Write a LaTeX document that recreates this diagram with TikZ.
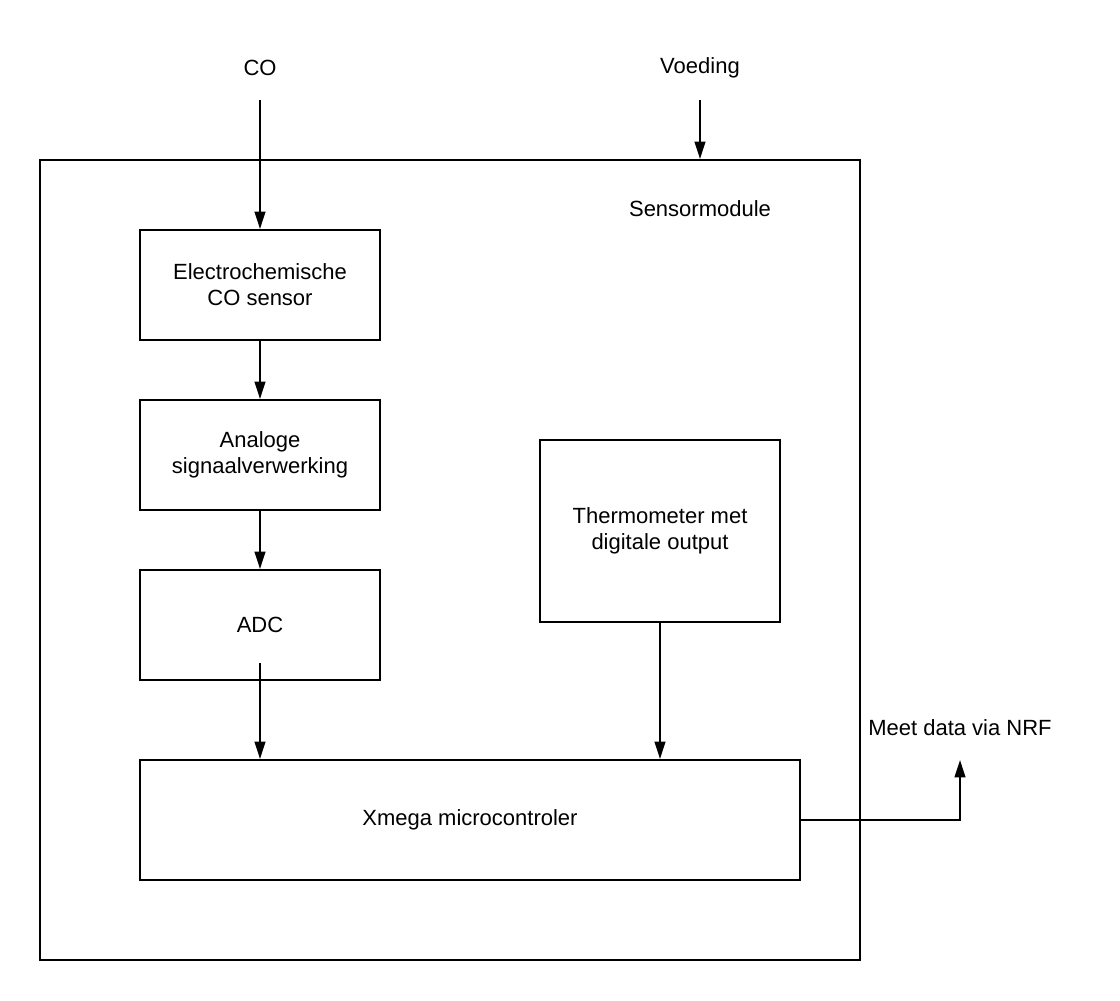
\documentclass[tikz,border=0pt]{standalone}
\usepackage{fontspec}
\setmainfont{Liberation Sans}
\usetikzlibrary{positioning,arrows.meta}

\begin{document}
\begin{tikzpicture}[
      x=0.75pt, y=-0.75pt,
      node distance=43.5pt,
      txt/.style = {font=\fontsize{16.5}{19.5}\selectfont, align=center},
      blok/.style = {txt, draw, line width=1.5pt, minimum width=180pt, minimum height=82.5pt, inner sep=0pt},
      flow/.style = {-{Triangle[length=13pt,width=8pt]}, line width=1.5pt}
      ]
      \useasboundingbox (0,0) rectangle (1120,1000);
      \node[draw, line width=1.5pt, minimum width=615pt, minimum height=600pt] (module) at (450,560) {};
      \node[txt] (modlabel) at (700,209) {Sensormodule};
      \node[txt] (colabel) at (260,68) {CO};
      \node[txt] (vlabel) at (700,68) {Voeding};

      \node[blok] (sensor) at (260,285) {Electrochemische\\CO sensor};
      \node[blok, below=of sensor] (analoog) {Analoge\\signaalverwerking};
      \node[blok, below=of analoog] (adc) {ADC};
      \node[blok, minimum height=136.5pt] (thermo) at (660,531) {Thermometer met\\digitale output};
      \node[blok, minimum width=495pt, minimum height=90pt] (xmega) at (470,820) {Xmega microcontroler};
      \node[txt] (nrflabel) at (960,728) {Meet data via NRF};

      \coordinate (coin) at (260,100);
      \coordinate (vin) at (700,100);
      \coordinate (adcout) at (260,663);
      \coordinate (nrf) at (960,760);

      \draw[flow] (coin) -- (sensor);
      \draw[flow] (vin) -- (vin |- module.north);
      \draw[flow] (sensor) -- (analoog);
      \draw[flow] (analoog) -- (adc);
      \draw[flow] (adcout) -- (adcout |- xmega.north);
      \draw[flow] (thermo.south) -- (thermo.south |- xmega.north);
      \draw[flow] (xmega.east) -| (nrf);
    \end{tikzpicture}
\end{document}
